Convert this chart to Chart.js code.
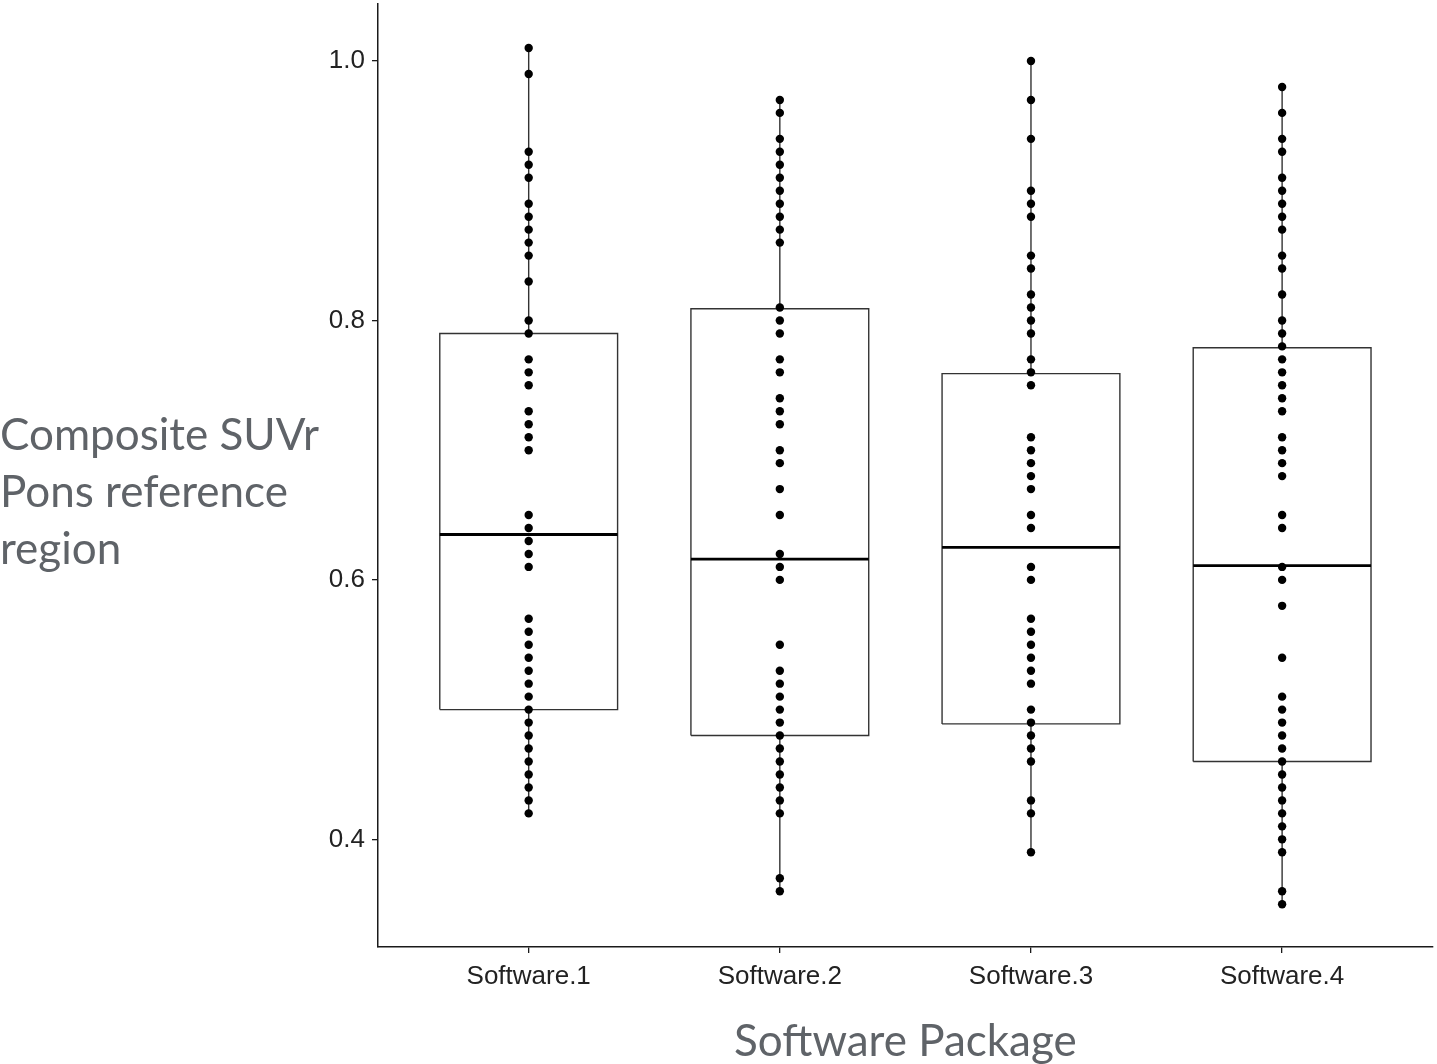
<!DOCTYPE html>
<html>
<head>
<meta charset="utf-8">
<title>Composite SUVr by software package</title>
<script src="https://cdn.jsdelivr.net/npm/chart.js@4.4.1/dist/chart.umd.min.js"></script>
<style>
  html, body { margin: 0; padding: 0; background: #ffffff; }
  #wrap { position: relative; width: 1437px; height: 1064px; overflow: hidden; }
  #c { position: absolute; left: 0; top: 0; }
  #ytitle {
    position: absolute; left: 0; top: 405px;
    font-family: Lato, "Open Sans", sans-serif; font-size: 44px; line-height: 57px;
    color: #5f6368; white-space: nowrap;
  }
</style>
</head>
<body>
<div id="wrap">
  <canvas id="c" width="1437" height="1064"></canvas>
  <div id="ytitle">Composite SUVr<br>Pons reference<br>region</div>
</div>
<script>
// Categories on the x axis
const CATEGORIES = ['Software.1', 'Software.2', 'Software.3', 'Software.4'];

// Individual composite SUVr values per software package
const SOFTWARE_1 = [1.01, 0.99, 0.93, 0.92, 0.91, 0.89, 0.88, 0.87, 0.86, 0.85, 0.83, 0.80, 0.79,
  0.77, 0.76, 0.75, 0.73, 0.72, 0.71, 0.70, 0.65, 0.64, 0.63, 0.62, 0.61, 0.57, 0.56, 0.55,
  0.54, 0.53, 0.52, 0.51, 0.50, 0.49, 0.48, 0.47, 0.46, 0.45, 0.44, 0.43, 0.42];
const SOFTWARE_2 = [0.97, 0.96, 0.94, 0.93, 0.92, 0.91, 0.90, 0.89, 0.88, 0.87, 0.86, 0.81, 0.80,
  0.79, 0.77, 0.76, 0.74, 0.73, 0.72, 0.70, 0.69, 0.67, 0.65, 0.62, 0.61, 0.60, 0.55, 0.53,
  0.52, 0.51, 0.50, 0.49, 0.48, 0.47, 0.46, 0.45, 0.44, 0.43, 0.42, 0.37, 0.36];
const SOFTWARE_3 = [1.00, 0.97, 0.94, 0.90, 0.89, 0.88, 0.85, 0.84, 0.82, 0.81, 0.80, 0.79, 0.77,
  0.76, 0.75, 0.71, 0.70, 0.69, 0.68, 0.67, 0.65, 0.64, 0.61, 0.60, 0.57, 0.56, 0.55, 0.54,
  0.53, 0.52, 0.50, 0.49, 0.48, 0.47, 0.46, 0.43, 0.42, 0.39];
const SOFTWARE_4 = [0.98, 0.96, 0.94, 0.93, 0.91, 0.90, 0.89, 0.88, 0.87, 0.85, 0.84, 0.82, 0.80,
  0.79, 0.78, 0.77, 0.76, 0.75, 0.74, 0.73, 0.71, 0.70, 0.69, 0.68, 0.65, 0.64, 0.61, 0.60,
  0.58, 0.54, 0.51, 0.50, 0.49, 0.48, 0.47, 0.46, 0.45, 0.44, 0.43, 0.42, 0.41, 0.40, 0.39,
  0.36, 0.35];

// Box statistics per package
const Q1 = [0.500, 0.480, 0.489, 0.460];
const MEDIAN = [0.635, 0.616, 0.625, 0.611];
const Q3 = [0.790, 0.809, 0.759, 0.779];

// Y axis tick values
const Y_TICKS = [0.4, 0.6, 0.8, 1.0];

const SERIES = [SOFTWARE_1, SOFTWARE_2, SOFTWARE_3, SOFTWARE_4];

// Drawing constants
const BOX_HALF = 0.354;          // half box width in category units
const LINE_COLOR = '#333333';
const AXIS_COLOR = '#1a1a1a';
const TICK_FONT = { family: '"Liberation Sans", Arial, sans-serif', size: 26 };
const TITLE_COLOR = '#5f6368';

const datasets = [];

SERIES.forEach((vals, i) => {
  const lo = Math.min(...vals);
  const hi = Math.max(...vals);
  const seg = { type: 'scatter', showLine: true, pointRadius: 0, borderColor: LINE_COLOR,
                borderWidth: 1.4, fill: false, tension: 0 };
  // whiskers
  datasets.push(Object.assign({}, seg, { order: 4, data: [{ x: i, y: lo }, { x: i, y: Q1[i] }] }));
  datasets.push(Object.assign({}, seg, { order: 4, data: [{ x: i, y: Q3[i] }, { x: i, y: hi }] }));
  // box outline
  datasets.push(Object.assign({}, seg, { order: 3, data: [
    { x: i - BOX_HALF, y: Q1[i] }, { x: i + BOX_HALF, y: Q1[i] },
    { x: i + BOX_HALF, y: Q3[i] }, { x: i - BOX_HALF, y: Q3[i] },
    { x: i - BOX_HALF, y: Q1[i] }
  ] }));
  // median
  datasets.push(Object.assign({}, seg, { order: 2, borderColor: '#000000', borderWidth: 2.8, data: [
    { x: i - BOX_HALF, y: MEDIAN[i] }, { x: i + BOX_HALF, y: MEDIAN[i] }
  ] }));
  // observations
  datasets.push({
    type: 'scatter', order: 1, showLine: false,
    data: vals.map(v => ({ x: i, y: v })),
    pointRadius: 4.2, pointHoverRadius: 4.2,
    pointBackgroundColor: '#000000', pointBorderColor: '#000000', pointBorderWidth: 0
  });
});

new Chart(document.getElementById('c'), {
  type: 'scatter',
  data: { datasets },
  options: {
    responsive: false,
    animation: false,
    devicePixelRatio: 1,
    layout: { padding: { left: 0, right: 2, top: 3, bottom: 0 } },
    plugins: { legend: { display: false }, tooltip: { enabled: false } },
    events: [],
    scales: {
      x: {
        type: 'linear',
        min: -0.6,
        max: CATEGORIES.length - 1 + 0.6,
        afterBuildTicks: s => { s.ticks = CATEGORIES.map((_, i) => ({ value: i })); },
        afterFit: s => { s.height = 117; s.paddingLeft = 0; s.paddingRight = 0; },
        ticks: {
          autoSkip: false, maxRotation: 0, padding: 8, color: '#222222', font: TICK_FONT,
          callback: v => CATEGORIES[v]
        },
        grid: { drawOnChartArea: false, drawTicks: true, tickLength: 6, color: AXIS_COLOR, lineWidth: 1.3 },
        border: { display: true, color: AXIS_COLOR, width: 1.5 },
        title: {
          display: true, text: 'Software Package', color: TITLE_COLOR,
          font: { family: 'Lato, "Open Sans", sans-serif', size: 44, lineHeight: 1 },
          padding: { top: 0, bottom: 0 }
        }
      },
      y: {
        type: 'linear',
        min: 0.317,
        max: 1.0438,
        afterBuildTicks: s => { s.ticks = Y_TICKS.map(v => ({ value: v })); },
        afterFit: s => { s.width = 378; s.paddingTop = 0; s.paddingBottom = 0; },
        ticks: { padding: 7, color: '#222222', font: TICK_FONT, callback: v => Number(v).toFixed(1) },
        grid: { drawOnChartArea: false, drawTicks: true, tickLength: 6, color: AXIS_COLOR, lineWidth: 1.3 },
        border: { display: true, color: AXIS_COLOR, width: 1.5 }
      }
    }
  }
});
</script>
</body>
</html>
